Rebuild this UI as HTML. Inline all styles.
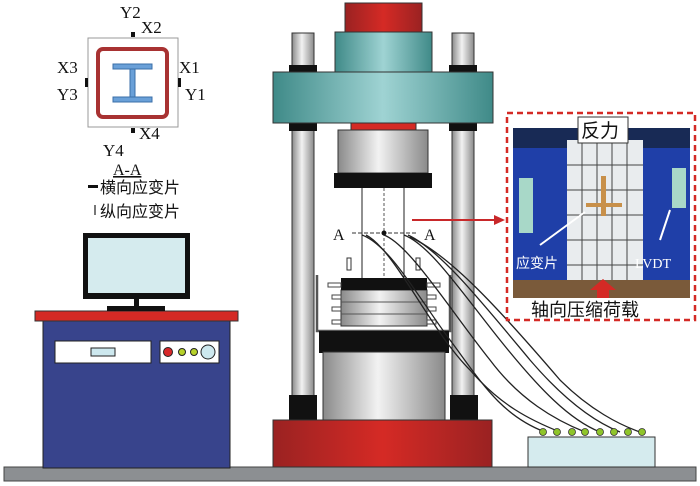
<!DOCTYPE html>
<html><head><meta charset="utf-8"><style>
body{margin:0;background:#fff}
svg{display:block}
text{font-family:"Liberation Serif","Noto Serif CJK SC",serif;fill:#111}
.cn{font-family:"Liberation Sans","Noto Sans CJK SC",sans-serif}
</style></head><body>
<svg width="700" height="486" viewBox="0 0 700 486" xmlns="http://www.w3.org/2000/svg">
<defs>
<linearGradient id="gr" x1="0" x2="1"><stop offset="0" stop-color="#8a8a8a"/><stop offset=".45" stop-color="#f2f2f2"/><stop offset="1" stop-color="#8a8a8a"/></linearGradient>
<linearGradient id="tl" x1="0" x2="1"><stop offset="0" stop-color="#3f8a88"/><stop offset=".5" stop-color="#9fd3d3"/><stop offset="1" stop-color="#3f8a88"/></linearGradient>
<linearGradient id="rd" x1="0" x2="1"><stop offset="0" stop-color="#9a2222"/><stop offset=".5" stop-color="#d52a25"/><stop offset="1" stop-color="#9a2222"/></linearGradient>
</defs>
<rect x="4" y="467" width="692" height="14" fill="#8c8f92" stroke="#444"/>
<rect x="43" y="320" width="187" height="148" fill="#38448c" stroke="#222"/>
<rect x="35" y="311" width="203" height="10" fill="#d42a25" stroke="#333"/>
<rect x="83" y="233" width="107" height="66" fill="#111"/>
<rect x="88" y="238" width="97" height="55" fill="#d5ebee"/>
<rect x="134" y="299" width="5" height="8" fill="#111"/>
<rect x="107" y="306" width="58" height="5" fill="#111"/>
<rect x="55" y="341" width="96" height="22" fill="#fff" stroke="#222"/>
<rect x="91" y="348" width="24" height="8" fill="#cde8ee" stroke="#222"/>
<rect x="160" y="341" width="59" height="22" fill="#fff" stroke="#222"/>
<circle cx="168" cy="352" r="4.5" fill="#d8282a" stroke="#222"/>
<circle cx="182" cy="352" r="3.5" fill="#b7d22a" stroke="#222"/>
<circle cx="194" cy="352" r="3.5" fill="#b7d22a" stroke="#222"/>
<circle cx="208" cy="352" r="7" fill="#cde8ee" stroke="#222"/>
<rect x="292" y="33" width="22" height="370" fill="url(#gr)" stroke="#333"/>
<rect x="452" y="33" width="22" height="370" fill="url(#gr)" stroke="#333"/>
<rect x="289" y="65" width="28" height="8" fill="#111"/><rect x="449" y="65" width="28" height="8" fill="#111"/>
<rect x="289" y="123" width="28" height="8" fill="#111"/><rect x="449" y="123" width="28" height="8" fill="#111"/>
<rect x="289" y="395" width="28" height="26" fill="#111"/><rect x="450" y="395" width="28" height="26" fill="#111"/>
<rect x="345" y="3" width="77" height="29" fill="url(#rd)" stroke="#333"/>
<rect x="335" y="32" width="97" height="40" fill="url(#tl)" stroke="#333"/>
<rect x="273" y="72" width="220" height="51" fill="url(#tl)" stroke="#333"/>
<rect x="351" y="123" width="65" height="7" fill="#d42a25" stroke="#333"/>
<rect x="338" y="130" width="90" height="43" fill="url(#gr)" stroke="#333"/>
<rect x="334" y="173" width="98" height="15" fill="#111"/>
<line x1="362" y1="188" x2="362" y2="280" stroke="#222"/>
<line x1="404" y1="188" x2="404" y2="280" stroke="#222"/>
<line x1="384" y1="188" x2="384" y2="280" stroke="#555" stroke-dasharray="3,2"/>
<line x1="352" y1="233" x2="417" y2="233" stroke="#333" stroke-dasharray="4,2"/>
<circle cx="384" cy="233" r="2.5" fill="#111"/>
<text x="333" y="240" font-size="16">A</text>
<text x="424" y="240" font-size="16">A</text>
<rect x="347" y="258" width="4" height="12" fill="#fff" stroke="#333"/>
<rect x="416" y="258" width="4" height="12" fill="#fff" stroke="#333"/>
<line x1="412" y1="220" x2="497" y2="220" stroke="#c8282a" stroke-width="2"/>
<polygon points="505,220 494,215 494,225" fill="#c8282a"/>
<path d="M317,275 V331 H450 V275" fill="none" stroke="#555" stroke-width="2.5"/>
<rect x="319" y="331" width="130" height="22" fill="#111"/>
<rect x="323" y="352" width="122" height="68" fill="url(#gr)" stroke="#333"/>
<rect x="341" y="290" width="86" height="36" fill="url(#gr)" stroke="#333"/>
<line x1="341" y1="302" x2="427" y2="302" stroke="#555"/><line x1="341" y1="314" x2="427" y2="314" stroke="#555"/>
<rect x="341" y="278" width="86" height="12" fill="#111"/>
<g fill="#fff" stroke="#444">
<rect x="328" y="283" width="13" height="4"/><rect x="427" y="283" width="13" height="4"/>
<rect x="332" y="295" width="9" height="4"/><rect x="427" y="295" width="9" height="4"/>
<rect x="332" y="307" width="9" height="4"/><rect x="427" y="307" width="9" height="4"/>
<rect x="332" y="320" width="9" height="4"/><rect x="427" y="320" width="9" height="4"/></g>
<rect x="273" y="420" width="219" height="47" fill="url(#rd)" stroke="#333"/>
<g fill="none" stroke="#222" stroke-width="1.3">
<path d="M362,235 C390,245 420,300 450,340 C480,380 500,415 545,432"/>
<path d="M366,235 C395,250 430,330 470,370 C500,405 530,420 560,432"/>
<path d="M384,235 C410,245 450,310 490,360 C520,400 555,420 585,432"/>
<path d="M404,235 C430,245 460,290 500,340 C540,390 570,420 600,432"/>
<path d="M408,235 C440,250 480,300 530,360 C560,395 590,420 620,432"/>
<path d="M410,237 C450,255 500,310 560,380 C590,410 620,425 640,432"/>
</g>
<rect x="528" y="437" width="127" height="30" fill="#d5ebee" stroke="#333"/>
<g fill="#8fc52a" stroke="#333" stroke-width=".8">
<circle cx="543" cy="432" r="3.5"/><circle cx="557" cy="432" r="3.5"/><circle cx="572" cy="432" r="3.5"/><circle cx="585" cy="432" r="3.5"/><circle cx="600" cy="432" r="3.5"/><circle cx="614" cy="432" r="3.5"/><circle cx="628" cy="432" r="3.5"/><circle cx="642" cy="432" r="3.5"/></g>
<rect x="507" y="113" width="188" height="207" fill="#fff" stroke="#d42a25" stroke-width="2.5" stroke-dasharray="6,4"/>
<rect x="513" y="128" width="177" height="170" fill="#1f3fa8"/>
<rect x="513" y="128" width="177" height="20" fill="#182a55"/>
<rect x="567" y="140" width="76" height="158" fill="#e9ecee"/>
<g stroke="#444" stroke-width="1"><line x1="567" y1="165" x2="643" y2="165"/><line x1="567" y1="190" x2="643" y2="190"/><line x1="567" y1="215" x2="643" y2="215"/><line x1="567" y1="240" x2="643" y2="240"/><line x1="567" y1="265" x2="643" y2="265"/>
<line x1="582" y1="140" x2="582" y2="298"/><line x1="597" y1="140" x2="597" y2="298"/><line x1="612" y1="140" x2="612" y2="298"/><line x1="627" y1="140" x2="627" y2="298"/></g>
<rect x="601" y="176" width="5" height="40" fill="#c8904a"/><rect x="586" y="203" width="36" height="4" fill="#c8904a"/>
<rect x="519" y="178" width="14" height="55" fill="#a8d8c8"/><rect x="672" y="168" width="14" height="40" fill="#a8d8c8"/>
<rect x="513" y="280" width="177" height="18" fill="#7a5a3a"/>
<line x1="540" y1="245" x2="585" y2="212" stroke="#fff" stroke-width="2"/>
<line x1="660" y1="240" x2="670" y2="210" stroke="#fff" stroke-width="2"/>
<text x="516" y="268" font-size="14" class="cn" style="fill:#fff">应变片</text>
<text x="635" y="268" font-size="14" style="fill:#fff">LVDT</text>
<rect x="578" y="117" width="50" height="26" fill="#fff" stroke="#333"/>
<text x="581" y="137" font-size="19" class="cn">反力</text>
<polygon points="597,298 597,290 590,290 603,279 616,290 609,290 609,298" fill="#d42a25"/>
<text x="531" y="316" font-size="18" class="cn">轴向压缩荷载</text>
<rect x="88" y="38" width="90" height="89" fill="#fff" stroke="#999"/>
<rect x="98" y="49" width="69" height="68" rx="5" fill="none" stroke="#a83232" stroke-width="4"/>
<rect x="113" y="64" width="39" height="5" fill="#6aa0d8" stroke="#3b6fa8"/>
<rect x="130" y="69" width="5" height="28" fill="#6aa0d8" stroke="#3b6fa8"/>
<rect x="113" y="97" width="39" height="5" fill="#6aa0d8" stroke="#3b6fa8"/>
<rect x="131" y="32" width="4" height="5" fill="#111"/><rect x="85" y="78" width="3" height="9" fill="#111"/>
<rect x="178" y="78" width="3" height="9" fill="#111"/><rect x="131" y="128" width="4" height="5" fill="#111"/>
<text x="120" y="18" font-size="17">Y2</text><text x="141" y="33" font-size="17">X2</text>
<text x="57" y="73" font-size="17">X3</text><text x="57" y="100" font-size="17">Y3</text>
<text x="179" y="73" font-size="17">X1</text><text x="185" y="100" font-size="17">Y1</text>
<text x="139" y="139" font-size="17">X4</text><text x="103" y="156" font-size="17">Y4</text>
<text x="113" y="175" font-size="16" text-decoration="underline">A-A</text>
<rect x="88" y="185" width="10" height="3" fill="#111"/>
<text x="100" y="193" font-size="16" class="cn">横向应变片</text>
<rect x="94" y="205" width="2" height="10" fill="#777"/>
<text x="100" y="217" font-size="16" class="cn">纵向应变片</text>
</svg>
</body></html>
